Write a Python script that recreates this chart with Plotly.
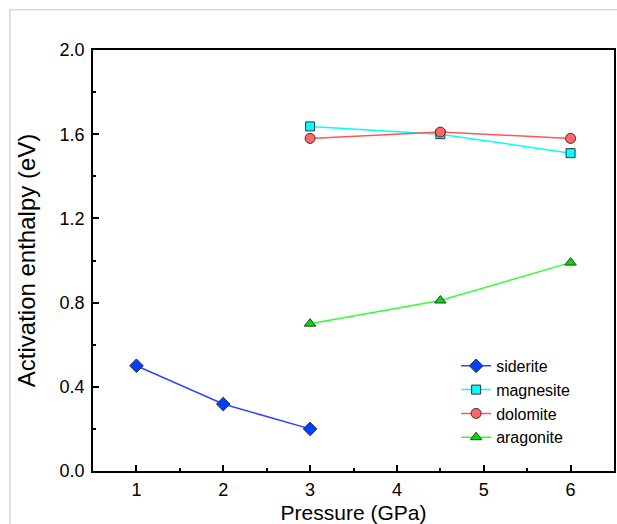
import plotly.graph_objects as go

siderite_x = [1, 2, 3]
siderite_y = [0.50, 0.318, 0.20]
magnesite_x = [3, 4.5, 6]
magnesite_y = [1.637, 1.60, 1.51]
dolomite_x = [3, 4.5, 6]
dolomite_y = [1.58, 1.61, 1.58]
aragonite_x = [3, 4.5, 6]
aragonite_y = [0.70, 0.81, 0.99]

x_ticks = [1, 2, 3, 4, 5, 6]
y_ticks = [0.0, 0.4, 0.8, 1.2, 1.6, 2.0]
y_ticklabels = ["0.0", "0.4", "0.8", "1.2", "1.6", "2.0"]

fig = go.Figure()

def add(name, xs, ys, symbol, mcolor, lcolor, size):
    fig.add_trace(go.Scatter(
        x=xs, y=ys, name=name, mode="lines+markers",
        line=dict(color=lcolor, width=1.5),
        marker=dict(symbol=symbol, size=size, color=mcolor,
                    line=dict(color="#333333", width=1)),
    ))

add("siderite", siderite_x, siderite_y, "diamond", "#0040ff", "#3344ff", 10.5)
add("magnesite", magnesite_x, magnesite_y, "square", "#00ffff", "#00ffff", 9)
add("dolomite", dolomite_x, dolomite_y, "circle", "#ff6666", "#ff5555", 10)
add("aragonite", aragonite_x, aragonite_y, "triangle-up", "#00dd00", "#33ff33", 10)

font = "Liberation Sans, Arial, sans-serif"

fig.update_layout(
    width=617, height=524,
    margin=dict(l=93, r=1, t=50, b=52),
    paper_bgcolor="white", plot_bgcolor="white",
    font=dict(family=font, color="black", size=16),
    showlegend=True,
    legend=dict(x=0.697, y=0.29, xanchor="left", yanchor="top",
                bgcolor="rgba(0,0,0,0)", font=dict(size=16)),
    xaxis=dict(
        range=[0.5, 6.5], tickmode="array", tickvals=x_ticks,
        ticks="inside", ticklen=6, tickwidth=1.5, tickcolor="black",
        showline=True, linecolor="black", linewidth=1.5, mirror=True,
        showgrid=False, zeroline=False, ticklabelstandoff=2,
        minor=dict(dtick=0.5, tick0=0.5, ticks="inside", ticklen=3, tickwidth=1.5, tickcolor="black"),
        title=dict(text="Pressure (GPa)", font=dict(size=21), standoff=8),
        tickfont=dict(size=18),
    ),
    yaxis=dict(
        range=[0, 2.0], tickmode="array", tickvals=y_ticks, ticktext=y_ticklabels,
        ticks="inside", ticklen=6, tickwidth=1.5, tickcolor="black",
        showline=True, linecolor="black", linewidth=1.5, mirror=True,
        showgrid=False, zeroline=False, ticklabelstandoff=3,
        minor=dict(dtick=0.2, tick0=0, ticks="inside", ticklen=3, tickwidth=1.5, tickcolor="black"),
        title=dict(text="Activation enthalpy (eV)", font=dict(size=24), standoff=17),
        tickfont=dict(size=18),
    ),
    shapes=[
        dict(type="line", xref="paper", yref="paper", x0=-0.161, x1=1.01, y0=1.0955, y1=1.0955,
             line=dict(color="#d6d6d6", width=1.5)),
        dict(type="line", xref="paper", yref="paper", x0=-0.1595, x1=-0.1595, y0=-0.2, y1=1.0965,
             line=dict(color="#d6d6d6", width=1.5)),
    ],
)

fig.write_html("out.html")
